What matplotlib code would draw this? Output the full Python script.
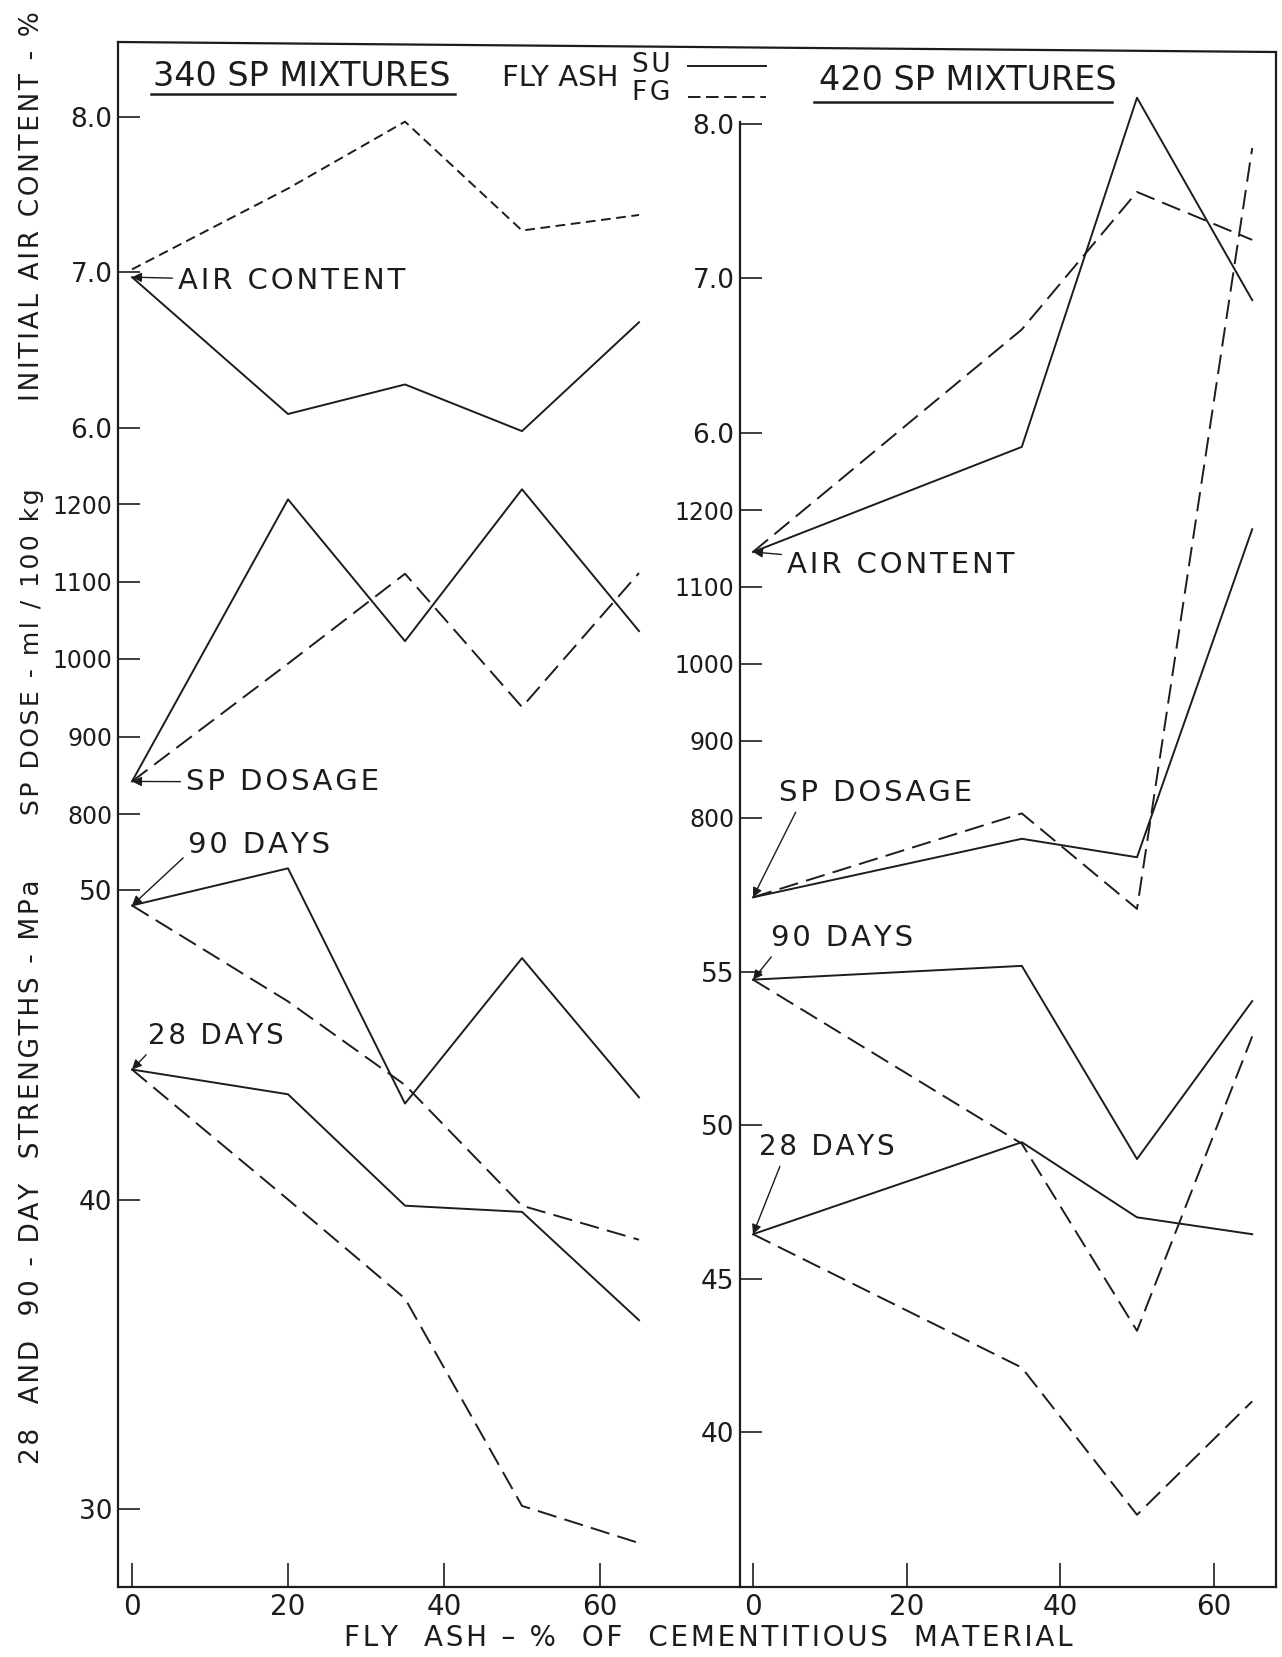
import matplotlib
matplotlib.use('Agg')
import matplotlib.pyplot as plt
from matplotlib.lines import Line2D

plt.rcParams['font.family'] = ['DejaVu Sans']
plt.rcParams['lines.scale_dashes'] = False

# fly ash content, % of cementitious material
fa_340 = [0, 20, 35, 50, 65]
fa_420 = [0, 35, 50, 65]

# 340 SP mixtures (SU = solid, FG = dashed)
air_su_340 = [6.97, 6.09, 6.28, 5.98, 6.68]
air_fg_340 = [7.02, 7.54, 7.97, 7.27, 7.37]
sp_su_340 = [842, 1206, 1023, 1219, 1036]
sp_fg_340 = [842, 994, 1110, 938, 1111]
f90_su_340 = [49.5, 50.7, 43.1, 47.8, 43.3]
f90_fg_340 = [49.5, 46.4, 43.7, 39.8, 38.7]
f28_su_340 = [44.2, 43.4, 39.8, 39.6, 36.1]
f28_fg_340 = [44.2, 40.0, 36.8, 30.1, 28.9]

# 420 SP mixtures
air_su_420 = [5.23, 5.91, 8.17, 6.86]
air_fg_420 = [5.23, 6.67, 7.56, 7.25]
sp_su_420 = [697, 773, 749, 1175]
sp_fg_420 = [697, 806, 682, 1670]
f90_su_420 = [54.75, 55.2, 48.9, 54.05]
f90_fg_420 = [54.75, 49.4, 43.3, 52.9]
f28_su_420 = [46.45, 49.45, 47.0, 46.45]
f28_fg_420 = [46.45, 42.1, 37.3, 41.0]

x_ticks = [0, 20, 40, 60]
air_ticks = [6.0, 7.0, 8.0]
sp_ticks = [800, 900, 1000, 1100, 1200]
str_ticks_340 = [30, 40, 50]
str_ticks_420 = [40, 45, 50, 55]

INK = '#1c1c1c'
W, H = 1282, 1657
TOP, BOT = 46, 1587
LW = 1.4

fig = plt.figure(figsize=(W / 100, H / 100), dpi=100)
fig.patch.set_facecolor('white')


def track(s):
    # spread the lettering a little, like the stencil text on the drawing
    return '\u200a'.join(s)


def make_axes(left, right, x_zero, px_unit, v1, y1, v2, y2, size=19):
    # axes spanning the whole panel; y limits chosen so v1 sits at pixel row y1, v2 at y2
    ax = fig.add_axes([left / W, 1 - BOT / H, (right - left) / W, (BOT - TOP) / H])
    ax.patch.set_alpha(0)
    for s in ax.spines.values():
        s.set_visible(False)
    ax.set_xlim((left - x_zero) / px_unit, (right - x_zero) / px_unit)
    k = (v2 - v1) / (y1 - y2)
    ax.set_ylim(v1 - (BOT - y1) * k, v1 + (y1 - TOP) * k)
    ax.set_xticks([])
    ax.tick_params(axis='y', direction='in', length=16, width=1.2, pad=4,
                   labelsize=size, colors=INK)
    return ax


def fmt_ticks(ax, ticks, fmt):
    ax.set_yticks(ticks)
    ax.set_yticklabels([fmt.format(t) for t in ticks])


def bottom_ticks(ax):
    ax.set_xticks(x_ticks)
    ax.set_xticklabels([str(t) for t in x_ticks])
    ax.tick_params(axis='x', direction='in', length=17, width=1.2, pad=4,
                   labelsize=20, colors=INK)


def draw(ax, x, y, dash=None):
    ln, = ax.plot(x, y, color=INK, lw=LW, clip_on=False)
    if dash:
        ln.set_dashes(dash)


def note(ax, text, xy, pos, size=21, rel=(0.5, 0.5)):
    ax.annotate(track(text), xy=xy, xycoords='data', xytext=(pos[0], H - pos[1]),
                textcoords='figure pixels', ha='left', va='center',
                fontsize=size, color=INK,
                arrowprops=dict(arrowstyle='-|>', color=INK, lw=1.0, relpos=rel,
                                mutation_scale=14, shrinkA=2, shrinkB=0))


SHORT = (7, 4)
LONG = (14, 6)

# ---- left panel: 340 SP mixtures ----
L0, L1 = 118, 740
ax_air = make_axes(L0, L1, 132, 7.8, 8.0, 117, 6.0, 428)
fmt_ticks(ax_air, air_ticks, '{:.1f}')
draw(ax_air, fa_340, air_su_340)
draw(ax_air, fa_340, air_fg_340, SHORT)

ax_sp = make_axes(L0, L1, 132, 7.8, 1200, 504, 800, 814, size=17)
fmt_ticks(ax_sp, sp_ticks, '{:d}')
draw(ax_sp, fa_340, sp_su_340)
draw(ax_sp, fa_340, sp_fg_340, LONG)

ax_str = make_axes(L0, L1, 132, 7.8, 50, 890, 30, 1509)
fmt_ticks(ax_str, str_ticks_340, '{:d}')
bottom_ticks(ax_str)
draw(ax_str, fa_340, f90_su_340)
draw(ax_str, fa_340, f90_fg_340, LONG)
draw(ax_str, fa_340, f28_su_340)
draw(ax_str, fa_340, f28_fg_340, LONG)

note(ax_air, 'AIR CONTENT', (0, air_su_340[0]), (178, 281))
note(ax_sp, 'SP DOSAGE', (0, sp_su_340[0]), (186, 782))
note(ax_str, '90 DAYS', (0, f90_su_340[0]), (188, 845), rel=(0.0, 0.2))
note(ax_str, '28 DAYS', (0, f28_su_340[0]), (148, 1036), size=20, rel=(0.04, 0.1))

# ---- right panel: 420 SP mixtures ----
R0, R1 = 740, 1276
bx_air = make_axes(R0, R1, 753, 7.68, 8.0, 124, 6.0, 433)
fmt_ticks(bx_air, air_ticks, '{:.1f}')
draw(bx_air, fa_420, air_su_420)
draw(bx_air, fa_420, air_fg_420, LONG)

bx_sp = make_axes(R0, R1, 753, 7.68, 1200, 510, 800, 818, size=17)
fmt_ticks(bx_sp, sp_ticks, '{:d}')
draw(bx_sp, fa_420, sp_su_420)
draw(bx_sp, fa_420, sp_fg_420, LONG)

bx_str = make_axes(R0, R1, 753, 7.68, 55, 972, 40, 1432)
fmt_ticks(bx_str, str_ticks_420, '{:d}')
bottom_ticks(bx_str)
draw(bx_str, fa_420, f90_su_420)
draw(bx_str, fa_420, f90_fg_420, LONG)
draw(bx_str, fa_420, f28_su_420)
draw(bx_str, fa_420, f28_fg_420, LONG)

note(bx_air, 'AIR CONTENT', (0, air_su_420[0]), (787, 565))
note(bx_sp, 'SP DOSAGE', (0, sp_su_420[0]), (779, 793), rel=(0.1, 0.0))
note(bx_str, '90 DAYS', (0, f90_su_420[0]), (771, 938), rel=(0.03, 0.0))
note(bx_str, '28 DAYS', (0, f28_su_420[0]), (759, 1147), size=20, rel=(0.17, 0.0))


# ---- frame, titles and key ----
def fig_line(xs, ys, lw=1.6, dash=None):
    ln = Line2D([x / W for x in xs], [1 - y / H for y in ys], color=INK, lw=lw,
                transform=fig.transFigure)
    if dash:
        ln.set_dashes(dash)
    fig.add_artist(ln)


fig_line([L0, L0], [42, BOT])
fig_line([L0, R1], [42, 52])
fig_line([R1, R1], [52, BOT])
fig_line([L0, R1], [BOT, BOT])
fig_line([R0, R0], [122, BOT])


def ftext(x, y, s, size=18, **kw):
    fig.text(x / W, 1 - y / H, s, fontsize=size, color=INK, va='center', **kw)


ftext(153, 76, '340 SP MIXTURES', 24)
fig_line([151, 455], [94, 94], lw=1.8)
ftext(819, 81, '420 SP MIXTURES', 24)
fig_line([814, 1112], [102, 102], lw=1.8)

ftext(502, 78, 'FLY ASH', 21)
ftext(632, 65, track('SU'), 19)
ftext(632, 93, track('FG'), 19)
fig_line([688, 766], [66, 66], lw=1.4)
fig_line([688, 766], [97, 97], lw=1.4, dash=(9, 4))

ftext(32, 206, track('INITIAL AIR CONTENT - %'), 19, rotation=90, ha='center')
ftext(32, 652, track('SP DOSE - ml / 100 kg'), 18, rotation=90, ha='center')
ftext(32, 1172, track('28  AND  90 - DAY  STRENGTHS - MPa'), 19, rotation=90, ha='center')
ftext(708, 1638, track('FLY  ASH – %  OF  CEMENTITIOUS  MATERIAL'), 20, ha='center')

fig.savefig('out.png', dpi=100, facecolor='white')
